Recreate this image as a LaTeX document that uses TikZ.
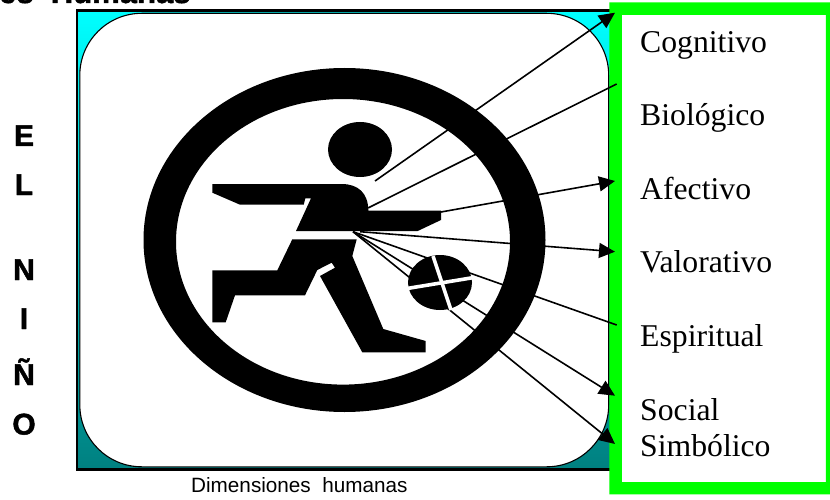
\documentclass[tikz,border=0pt]{standalone}
\usepackage{fontspec}
\setmainfont{Liberation Serif}
\newfontfamily\arialf{Liberation Sans}
\newfontfamily\heavyf{Liberation Sans}[BoldFeatures={FakeBold=1.6}]
\usetikzlibrary{arrows.meta}
\definecolor{framecyan}{RGB}{0,255,255}
\definecolor{frameteal}{RGB}{0,128,128}
\definecolor{boxgreen}{RGB}{0,255,0}
\tikzset{
  x=1pt,y=-1pt,
  dimlabel/.style={anchor=base west,inner sep=0pt,font=\fontsize{31.7}{36}\selectfont},
  ninoletter/.style={anchor=base,inner sep=0pt,font=\heavyf\bfseries\fontsize{30}{34}\selectfont},
  spoke/.style={draw=black,line width=1.6pt},
  spokearrow/.style={spoke,-{Triangle[length=16pt,width=15pt]}},
  inkshape/.style={fill=black,draw=none},
  ballcut/.style={draw=white,line width=3.6pt}
}
\begin{document}
\begin{tikzpicture}
\useasboundingbox (0,0) rectangle (830,500);
\begin{scope}
\clip (0,0) rectangle (830,500);
\node[anchor=base west,inner sep=0pt,font=\heavyf\bfseries\fontsize{31}{34}\selectfont] (title) at (-1,3) {es\ \ Humanas};
\end{scope}
% frame
\shade[top color=framecyan,bottom color=frameteal] (77,10.5) rectangle (612,469.5);
\draw[black,line width=2.6pt] (77.3,10.5) -- (612,10.5);
\draw[black,line width=2.2pt] (77.3,9.4) -- (77.3,470.5);
\draw[black,line width=3.2pt] (76.2,469.2) -- (612,469.2);
\draw[fill=white,draw=black,line width=1.1pt,rounded corners=62pt] (79.8,13.3) rectangle (608.7,466.8);
% labels box
\fill[boxgreen,even odd rule] (609.3,2.5) rectangle (836,494.3) (621.8,14.8) rectangle (825.8,482.2);
\node[dimlabel] (cog) at (640,52.7) {Cognitivo};
\node[dimlabel] (bio) at (640,126) {Biológico};
\node[dimlabel] (afe) at (640,200) {Afectivo};
\node[dimlabel] (val) at (640,272.7) {Valorativo};
\node[dimlabel] (esp) at (640,346.7) {Espiritual};
\node[dimlabel] (soc) at (640,420) {Social};
\node[dimlabel] (sim) at (640,456.7) {Simbólico};
% spoke ends
\coordinate (headS) at (375,181);
\coordinate (chest) at (368,208);
\coordinate (hand) at (441,212);
\coordinate (waistA) at (360,231.7);
\coordinate (waistB) at (353,231.7);
\coordinate (cogE) at (615,12.7);
\coordinate (bioE) at (616.7,84);
\coordinate (afeE) at (615,181);
\coordinate (valE) at (615,251.7);
\coordinate (espE) at (616.7,325);
\coordinate (socE) at (615,395.7);
\coordinate (simE) at (615,444);
\draw[spokearrow] (headS) -- (cogE);
\draw[spoke] (chest) -- (bioE);
\draw[spokearrow] (hand) -- (afeE);
\draw[spokearrow] (waistA) -- (valE);
\draw[spoke] (waistB) -- (espE);
\draw[spokearrow] (waistB) -- (socE);
\draw[spokearrow] (waistB) -- (simE);
% ring
\fill[black,even odd rule] (344.5,240) ellipse [x radius=201,y radius=172] (343,241.8) ellipse [x radius=167,y radius=142.8];
% runner
\fill[inkshape] (360,149.5) ellipse [x radius=32,y radius=27.5];
\fill[inkshape] (212.3,184) -- (341.7,184) .. controls (358,184) and (368.3,193) .. (368.3,210.7) -- (441,210.7) -- (441,220) -- (417.7,231) -- (296,231) -- (311,198.3) -- (305.3,198.3) -- (303.7,204.7) -- (240,204.7) -- (212.3,192.7) -- cycle;
\fill[inkshape] (292.3,239.3) -- (356.7,239.3) -- (352.3,256) -- (383.3,329) -- (425.7,341) -- (425.7,352.3) -- (362.3,352.3) -- (320,276) -- (335,267.7) -- (331.7,262.7) -- (317.3,270) -- (305,295.3) -- (235,295.3) -- (225.7,322.3) -- (212.3,322.3) -- (212.3,270.3) -- (277.3,270.3) -- cycle;
% ball
\fill[inkshape] (440,282.5) ellipse [x radius=32,y radius=27.5];
\draw[ballcut] (433,256) -- (451,310);
\draw[ballcut] (407,288.5) -- (474,277.5);
% side letters
\node[ninoletter] (e) at (24,146) {E};
\node[ninoletter] (l) at (24,195) {L};
\node[ninoletter] (n) at (24,280) {N};
\node[ninoletter] (i) at (24,329) {I};
\node[ninoletter] (ny) at (24,385) {Ñ};
\node[ninoletter] (o) at (24,434.5) {O};
% caption
\node[anchor=base west,inner sep=0pt,font=\arialf\fontsize{20.7}{24}\selectfont] (cap) at (191,492) {Dimensiones\ \ humanas};
\end{tikzpicture}
\end{document}
